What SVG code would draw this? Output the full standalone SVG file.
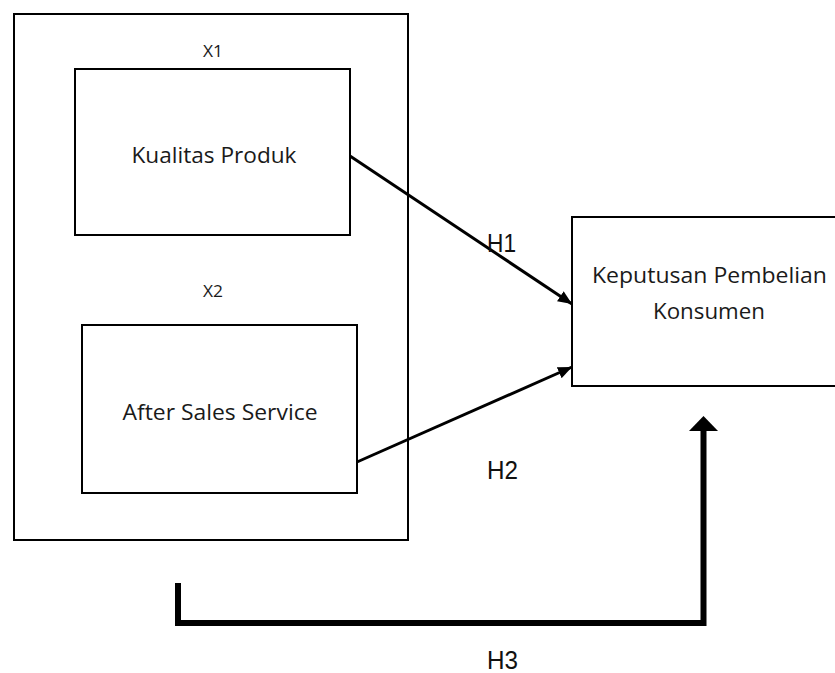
<svg xmlns="http://www.w3.org/2000/svg" width="835" height="673" viewBox="0 0 835 673">
<style>
.box{fill:#fff;stroke:#000;stroke-width:2}
.frame{fill:none;stroke:#000;stroke-width:2}
.t{font-family:"Open Sans","Noto Sans",sans-serif;fill:#1a1a1a;text-anchor:middle}
.h{font-family:"Liberation Sans",Arial,sans-serif;fill:#111;font-size:25px}
.conn{stroke:#000;stroke-width:3;fill:none}
</style>
<defs>
<marker id="ah" markerUnits="userSpaceOnUse" markerWidth="16" markerHeight="14" refX="14" refY="6" orient="auto">
<path d="M0,0 L14,6 L0,12 Z" fill="#000"/>
</marker>
</defs>
<rect width="835" height="673" fill="#fff"/>
<g id="group-x">
<rect class="frame" x="14" y="14" width="394" height="526"/>
</g>
<g id="x1">
<text class="t" x="213" y="57" font-size="17" textLength="20" lengthAdjust="spacingAndGlyphs">X1</text>
<rect class="box" x="75" y="69" width="275" height="166"/>
<text class="t" x="214" y="163" font-size="21" textLength="165" lengthAdjust="spacingAndGlyphs">Kualitas Produk</text>
</g>
<g id="x2">
<text class="t" x="213" y="297" font-size="17" textLength="20" lengthAdjust="spacingAndGlyphs">X2</text>
<rect class="box" x="82" y="325" width="275" height="168"/>
<text class="t" x="220" y="420" font-size="21" textLength="195" lengthAdjust="spacingAndGlyphs">After Sales Service</text>
</g>
<g id="y">
<rect class="box" x="572" y="217" width="270" height="169"/>
<text class="t" x="709.5" y="283" font-size="21" textLength="235" lengthAdjust="spacingAndGlyphs">Keputusan Pembelian</text>
<text class="t" x="709" y="319" font-size="21" textLength="112" lengthAdjust="spacingAndGlyphs">Konsumen</text>
</g>
<g id="connectors">
<line class="conn" x1="350" y1="156" x2="572" y2="304" marker-end="url(#ah)"/>
<line class="conn" x1="357" y1="462" x2="572" y2="367" marker-end="url(#ah)"/>
<path d="M178,583 V623 H703.5 V428" fill="none" stroke="#000" stroke-width="6" stroke-linejoin="miter"/>
<path d="M689,431 L703.5,416 L718,431 Z" fill="#000"/>
</g>
<g id="labels">
<text class="h" x="487" y="252" textLength="29" lengthAdjust="spacingAndGlyphs">H1</text>
<text class="h" x="487" y="479" textLength="31" lengthAdjust="spacingAndGlyphs">H2</text>
<text class="h" x="487" y="669" textLength="31" lengthAdjust="spacingAndGlyphs">H3</text>
</g>
</svg>
